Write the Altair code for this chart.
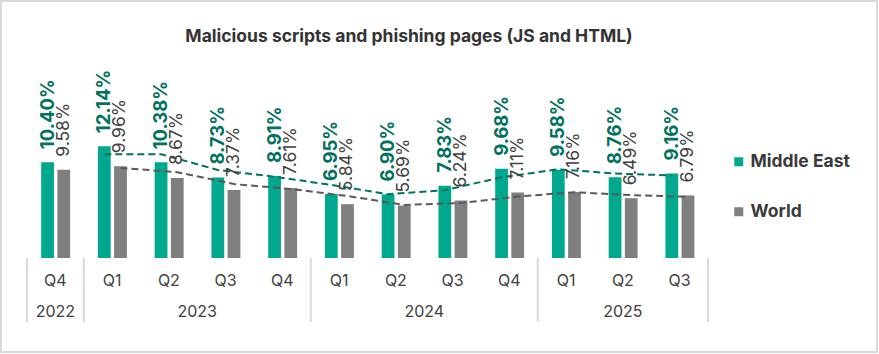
import altair as alt
import pandas as pd

# ---- data ----
quarters = ["Q4", "Q1", "Q2", "Q3", "Q4", "Q1", "Q2", "Q3", "Q4", "Q1", "Q2", "Q3"]
years = ["2022", "2023", "2023", "2023", "2023", "2024", "2024", "2024", "2024", "2025", "2025", "2025"]
middle_east = [10.40, 12.14, 10.38, 8.73, 8.91, 6.95, 6.90, 7.83, 9.68, 9.58, 8.76, 9.16]
world = [9.58, 9.96, 8.67, 7.37, 7.61, 5.84, 5.69, 6.24, 7.11, 7.16, 6.49, 6.79]
series_names = ["Middle East", "World"]
title_text = "Malicious scripts and phishing pages (JS and HTML)"

# ---- layout / style ----
W, H = 681, 129
FONT = "Inter"
bar_colors = ["#00A88E", "#7F7F7F"]
trend_colors = ["#00725D", "#595959"]
label_colors = ["#00725D", "#404040"]
grid_gray = "#D9D9D9"
text_gray = "#404040"

rows = []
for i, (q, y) in enumerate(zip(quarters, years)):
    rows.append(dict(i=i, quarter=q, year=y, series=series_names[0], value=middle_east[i]))
    rows.append(dict(i=i, quarter=q, year=y, series=series_names[1], value=world[i]))
df = pd.DataFrame(rows)

# year groups
yr = []
for y in dict.fromkeys(years):
    idx = [k for k, v in enumerate(years) if v == y]
    yr.append(dict(year=y, first=idx[0], last=idx[-1], mid=(idx[0] + idx[-1]) / 2))
years_df = pd.DataFrame(yr)
bounds = [r["first"] - 0.5 for r in yr] + [yr[-1]["last"] + 0.5]
bounds_df = pd.DataFrame({"b": bounds})

xscale = alt.Scale(domain=[-0.5, len(quarters) - 0.5], nice=False, zero=False)
yscale = alt.Scale(domain=[0, 14], nice=False)

base = alt.Chart(df).transform_calculate(
    x0="datum.i + (datum.series == 'Middle East' ? -0.25 : 0.035)",
).transform_calculate(
    x1="datum.x0 + 0.225",
    xc="datum.x0 + 0.1125",
    label="format(datum.value, '.2f') + '%'",
)

bars = base.mark_bar().encode(
    x=alt.X("x0:Q", scale=xscale,
            axis=alt.Axis(domain=True, domainColor=grid_gray, domainWidth=2, ticks=False,
                          labels=False, grid=False, title=None)),
    x2="x1:Q",
    y=alt.Y("value:Q", scale=yscale, axis=None),
    y2=alt.datum(0),
    color=alt.Color("series:N", scale=alt.Scale(domain=series_names, range=bar_colors),
                    legend=alt.Legend(orient="none", legendX=703, legendY=24, title=None,
                                      symbolType="square", symbolSize=81, symbolStrokeWidth=0,
                                      labelFontSize=17.5, labelFont=FONT, labelFontWeight="bold",
                                      labelColor="#3A3A3A", rowPadding=31, labelOffset=3,
                                      padding=0)),
)

trend = base.transform_window(
    ma="mean(value)", frame=[-1, 0], groupby=["series"], sort=[alt.SortField("i")]
).transform_filter("datum.i >= 1").mark_line(strokeDash=[7, 4], strokeWidth=2).encode(
    x=alt.X("xc:Q", scale=xscale, axis=None),
    y=alt.Y("ma:Q", scale=yscale, axis=None),
    stroke=alt.Stroke("series:N", scale=alt.Scale(domain=series_names, range=trend_colors),
                      legend=None),
    order="i:Q",
)

me_labels = base.transform_filter(f"datum.series == '{series_names[0]}'").mark_text(
    angle=270, align="left", baseline="middle", dx=13, font=FONT, fontSize=18.5,
    fontWeight="bold", color=label_colors[0]
).encode(
    x=alt.X("xc:Q", scale=xscale, axis=None),
    y=alt.Y("value:Q", scale=yscale, axis=None),
    text="label:N",
)

w_labels = base.transform_filter(f"datum.series == '{series_names[1]}'").mark_text(
    angle=270, align="left", baseline="middle", dx=13, font=FONT, fontSize=17.5,
    fontWeight="normal", color=label_colors[1]
).encode(
    x=alt.X("xc:Q", scale=xscale, axis=None),
    y=alt.Y("value:Q", scale=yscale, axis=None),
    text="label:N",
)

q_labels = alt.Chart(df).transform_filter(f"datum.series == '{series_names[0]}'").mark_text(
    font=FONT, fontSize=16, color=text_gray, baseline="middle", align="center"
).encode(
    x=alt.X("i:Q", scale=xscale, axis=None),
    y=alt.value(H + 23),
    text="quarter:N",
)

y_labels = alt.Chart(years_df).mark_text(
    font=FONT, fontSize=16, color=text_gray, baseline="middle", align="center"
).encode(
    x=alt.X("mid:Q", scale=xscale, axis=None),
    y=alt.value(H + 54),
    text="year:N",
)

seps = alt.Chart(bounds_df).mark_rule(color=grid_gray, strokeWidth=2).encode(
    x=alt.X("b:Q", scale=xscale, axis=None),
    y=alt.value(H),
    y2=alt.value(H + 64),
)

frame = alt.Chart(pd.DataFrame({"k": [0]})).mark_rect(
    fillOpacity=0, stroke=grid_gray, strokeWidth=2
).encode(
    x=alt.value(-26), x2=alt.value(850), y=alt.value(-128), y2=alt.value(223),
)

title = alt.Chart(pd.DataFrame({"t": [title_text]})).mark_text(
    font=FONT, fontSize=17.5, fontWeight="bold", color="#333333", align="center", baseline="middle"
).encode(
    x=alt.value(382), y=alt.value(-92), text="t:N",
)

chart = alt.layer(frame, bars, trend, me_labels, w_labels, q_labels, y_labels, seps, title).properties(
    width=W, height=H,
    background="white",
    autosize=alt.AutoSizeParams(type="none"),
    padding={"left": 27, "top": 129, "right": 171, "bottom": 96},
).configure_view(strokeWidth=0)

chart.save("out.html", embed_options={"renderer": "svg", "actions": False})
